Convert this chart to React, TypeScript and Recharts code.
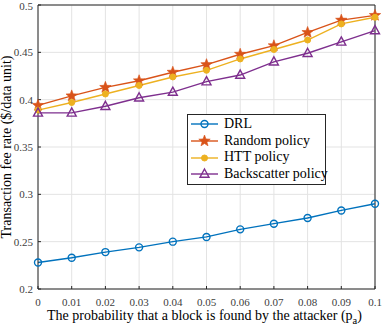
import React from 'react';
import { LineChart, Line, XAxis, YAxis, CartesianGrid, ReferenceLine } from 'recharts';

const probs = [0, 0.01, 0.02, 0.03, 0.04, 0.05, 0.06, 0.07, 0.08, 0.09, 0.1];
const drl = [0.228, 0.233, 0.239, 0.244, 0.250, 0.255, 0.263, 0.269, 0.275, 0.283, 0.290];
const randomPolicy = [0.394, 0.404, 0.413, 0.420, 0.429, 0.437, 0.448, 0.457, 0.471, 0.484, 0.489];
const httPolicy = [0.389, 0.397, 0.406, 0.415, 0.424, 0.431, 0.443, 0.453, 0.463, 0.480, 0.487];
const backscatter = [0.386, 0.386, 0.393, 0.402, 0.408, 0.419, 0.426, 0.440, 0.449, 0.461, 0.473];
const yTicks = [0.2, 0.25, 0.3, 0.35, 0.4, 0.45, 0.5];

const series = [
  { key: 'drl', name: 'DRL', color: '#0072BD', marker: 'circle' },
  { key: 'random', name: 'Random policy', color: '#D95319', marker: 'star' },
  { key: 'htt', name: 'HTT policy', color: '#EDB120', marker: 'dot' },
  { key: 'back', name: 'Backscatter policy', color: '#7E2F8E', marker: 'triangle' },
];

const rows = probs.map((p, i) => ({
  p,
  drl: drl[i],
  random: randomPolicy[i],
  htt: httPolicy[i],
  back: backscatter[i],
}));

const FONT = '"Liberation Serif", serif';

function starPath(cx: number, cy: number, r: number) {
  const pts: string[] = [];
  for (let i = 0; i < 10; i++) {
    const rad = i % 2 === 0 ? r : r * 0.42;
    const a = -Math.PI / 2 + (i * Math.PI) / 5;
    pts.push(`${cx + rad * Math.cos(a)},${cy + rad * Math.sin(a)}`);
  }
  return `M${pts.join('L')}Z`;
}

const Marker = ({ cx, cy, type, color }: { cx: number; cy: number; type: string; color: string }) => {
  if (cx == null || cy == null) return null;
  if (type === 'circle') return <circle cx={cx} cy={cy} r={3.5} fill="none" stroke={color} strokeWidth={1.4} />;
  if (type === 'dot') return <circle cx={cx} cy={cy} r={3} fill={color} stroke={color} />;
  if (type === 'star') return <path d={starPath(cx, cy, 6)} fill={color} stroke={color} strokeWidth={0.6} />;
  return (
    <path
      d={`M${cx},${cy - 5}L${cx + 4.5},${cy + 3.2}L${cx - 4.5},${cy + 3.2}Z`}
      fill="none"
      stroke={color}
      strokeWidth={1.4}
    />
  );
};

const LegendBox = () => (
  <div
    style={{
      position: 'absolute',
      left: 187,
      top: 114,
      width: 130,
      border: '1px solid #262626',
      background: '#fff',
      padding: '1px 5px 1px 2px',
      fontFamily: FONT,
      fontSize: 14,
      color: '#000',
      lineHeight: '16.7px',
      whiteSpace: 'nowrap',
    }}
  >
    {series.map((s) => (
      <div key={s.key} style={{ display: 'flex', alignItems: 'center', height: 16.7 }}>
        <svg width={29} height={14} style={{ marginRight: 5, flexShrink: 0 }}>
          <line x1={1} y1={7} x2={28} y2={7} stroke={s.color} strokeWidth={1.4} />
          <Marker cx={14.5} cy={7} type={s.marker} color={s.color} />
        </svg>
        <span>{s.name}</span>
      </div>
    ))}
  </div>
);

const XLabel = ({ viewBox }: any) => {
  const { x, y, width } = viewBox;
  return (
    <text x={x + width / 2 - 2} y={y + 31} textAnchor="middle" style={{ fontFamily: FONT }} fontSize={14} fill="#000">
      The probability that a block is found by the attacker (p
      <tspan fontSize={10.5} dy={4}>a</tspan>
      <tspan dy={-4}>)</tspan>
    </text>
  );
};

const YLabel = ({ viewBox }: any) => {
  const { y, height } = viewBox;
  const cx = 10.5;
  const cy = y + height / 2;
  return (
    <text
      x={cx}
      y={cy}
      transform={`rotate(-90, ${cx}, ${cy})`}
      textAnchor="middle"
      style={{ fontFamily: FONT }}
      fontSize={14}
      fill="#000"
    >
      Transaction fee rate ($/data unit)
    </text>
  );
};

export default function App() {
  return (
    <div style={{ position: 'absolute', left: 0, top: 0, width: 382, height: 327, background: '#fff' }}>
      <LineChart width={382} height={327} data={rows} margin={{ top: 5, right: 7, left: 0, bottom: 0 }}>
        <CartesianGrid stroke="#e3e3e3" strokeWidth={1} />
        <XAxis
          dataKey="p"
          type="number"
          domain={[0, 0.1]}
          ticks={probs}
          height={38}
          stroke="#262626"
          tickSize={-3}
          tickMargin={12}
          tick={{ fontFamily: FONT, fontSize: 11, fill: '#404040' }}
          label={<XLabel />}
        />
        <YAxis
          type="number"
          domain={[0.2, 0.5]}
          ticks={yTicks}
          width={38}
          stroke="#262626"
          tickSize={-3}
          tickMargin={8}
          tick={{ fontFamily: FONT, fontSize: 11, fill: '#404040' }}
          label={<YLabel />}
        />
        <ReferenceLine y={0.5} stroke="#262626" />
        <ReferenceLine x={0.1} stroke="#262626" />
        {series.map((s) => (
          <Line
            key={s.key}
            dataKey={s.key}
            name={s.name}
            stroke={s.color}
            strokeWidth={1.4}
            isAnimationActive={false}
            dot={(props: any) => <Marker key={`${s.key}-${props.index}`} cx={props.cx} cy={props.cy} type={s.marker} color={s.color} />}
            activeDot={false}
          />
        ))}
      </LineChart>
      <LegendBox />
    </div>
  );
}
